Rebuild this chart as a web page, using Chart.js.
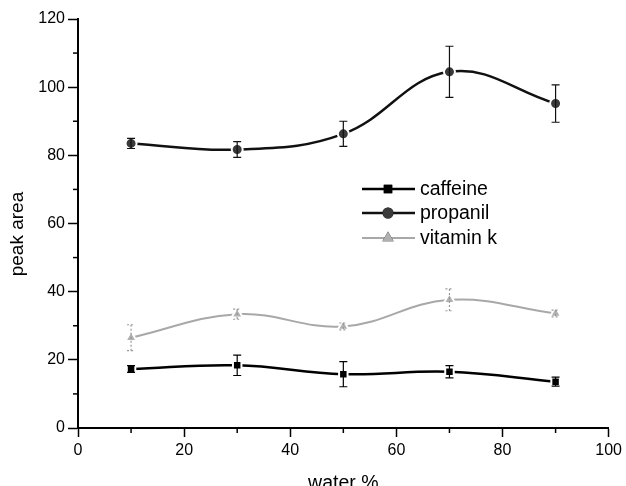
<!DOCTYPE html>
<html>
<head>
<meta charset="utf-8">
<script src="https://cdn.jsdelivr.net/npm/chart.js@4"></script>
<style>
  html, body { margin: 0; padding: 0; background: #fff; }
  #wrap { width: 626px; height: 486px; }
</style>
</head>
<body>
<div id="wrap"><canvas id="peakChart" width="626" height="486"></canvas></div>
<script>
// water content (%) on the x axis
const waterPct = [10, 30, 50, 70, 90];

// peak areas
const caffeine = [17.3, 18.4, 15.8, 16.5, 13.6];
const caffeineErr = [1.0, 3.0, 3.7, 1.8, 1.3];

const propanil = [83.5, 81.7, 86.3, 104.5, 95.2];
const propanilErr = [1.5, 2.3, 3.7, 7.5, 5.5];

const vitaminK = [26.5, 33.4, 29.8, 37.6, 33.6];
const vitaminKErr = [3.8, 1.5, 1.0, 3.2, 1.0];

const xTicks = [0, 20, 40, 60, 80, 100];
const yTicks = [0, 20, 40, 60, 80, 100, 120];

const FONT = "'Liberation Sans', Arial, sans-serif";

function pts(values) {
    return waterPct.map((x, i) => ({ x: x, y: values[i] }));
}

// error bars + minor ticks + legend, drawn with the chart's own scales
const extrasPlugin = {
    id: 'extras',
    beforeDatasetsDraw(chart) {
        const ctx = chart.ctx;
        const xs = chart.scales.x, ys = chart.scales.y;
        const area = chart.chartArea;
        ctx.save();
        ctx.strokeStyle = '#000';
        ctx.lineWidth = 1.5;
        // minor ticks
        for (let v = 10; v < 120; v += 20) {
            const py = ys.getPixelForValue(v);
            ctx.beginPath();
            ctx.moveTo(area.left - 5, py);
            ctx.lineTo(area.left, py);
            ctx.stroke();
        }
        for (let v = 10; v < 100; v += 20) {
            const px = xs.getPixelForValue(v);
            ctx.beginPath();
            ctx.moveTo(px, area.bottom);
            ctx.lineTo(px, area.bottom + 5);
            ctx.stroke();
        }
        ctx.restore();
    },
    afterDatasetsDraw(chart) {
        const ctx = chart.ctx;
        const xs = chart.scales.x, ys = chart.scales.y;
        const errs = [caffeineErr, propanilErr, vitaminKErr];
        ctx.save();
        chart.data.datasets.forEach((ds, di) => {
            ctx.strokeStyle = ds.errColor;
            ctx.lineWidth = 1.2;
            ctx.setLineDash(ds.errDash);
            ds.data.forEach((p, i) => {
                const e = errs[di][i];
                const px = xs.getPixelForValue(p.x);
                const top = ys.getPixelForValue(p.y + e);
                const bot = ys.getPixelForValue(p.y - e);
                ctx.beginPath();
                ctx.moveTo(px, top); ctx.lineTo(px, bot);
                ctx.moveTo(px - 4, top); ctx.lineTo(px + 4, top);
                ctx.moveTo(px - 4, bot); ctx.lineTo(px + 4, bot);
                ctx.stroke();
            });
        });
        ctx.setLineDash([]);

        // legend inside the plot
        const legendY = [189, 213, 238];
        chart.data.datasets.forEach((ds, di) => {
            const y = legendY[di];
            ctx.strokeStyle = ds.borderColor;
            ctx.lineWidth = ds.borderWidth;
            ctx.beginPath();
            ctx.moveTo(362, y); ctx.lineTo(415, y);
            ctx.stroke();
            Chart.helpers.drawPoint(ctx, {
                pointStyle: ds.pointStyle,
                radius: ds.pointRadius,
                borderWidth: 0
            }, 388, y);
            ctx.fillStyle = ds.pointBackgroundColor;
            ctx.fill();
            ctx.fillStyle = '#000';
            ctx.font = '19.5px ' + FONT;
            ctx.textBaseline = 'middle';
            ctx.textAlign = 'left';
            ctx.fillText(ds.label, 420, y + 1);
        });
        ctx.restore();
    }
};

const ctx = document.getElementById('peakChart').getContext('2d');
new Chart(ctx, {
    type: 'line',
    data: {
        datasets: [{
            label: 'caffeine',
            data: pts(caffeine),
            borderColor: '#000',
            borderWidth: 2.5,
            pointStyle: 'rect',
            pointRadius: 6,
            pointBackgroundColor: '#000',
            pointBorderColor: '#fff',
            pointBorderWidth: 2,
            tension: 0.4,
            errColor: '#000',
            errDash: []
        }, {
            label: 'propanil',
            data: pts(propanil),
            borderColor: '#111',
            borderWidth: 2.5,
            pointStyle: 'circle',
            pointRadius: 5.5,
            pointBackgroundColor: '#3a3a3a',
            pointBorderColor: '#fff',
            pointBorderWidth: 2,
            tension: 0.4,
            errColor: '#111',
            errDash: []
        }, {
            label: 'vitamin k',
            data: pts(vitaminK),
            borderColor: '#a8a8a8',
            borderWidth: 2,
            pointStyle: 'triangle',
            pointRadius: 6.5,
            pointBackgroundColor: '#b0b0b0',
            pointBorderColor: '#fff',
            pointBorderWidth: 2,
            tension: 0.4,
            errColor: '#999',
            errDash: [2, 2]
        }]
    },
    options: {
        responsive: false,
        animation: false,
        layout: { padding: { top: 19, right: 15, left: 0, bottom: 0 } },
        plugins: {
            legend: { display: false },
            tooltip: { enabled: false }
        },
        scales: {
            x: {
                type: 'linear',
                min: 0,
                max: 100,
                afterBuildTicks: s => { s.ticks = xTicks.map(v => ({ value: v })); },
                afterFit: s => { s.height = 58; },
                grid: { drawOnChartArea: false, tickLength: 9, tickWidth: 1.5, tickColor: '#000' },
                border: { color: '#000', width: 2 },
                ticks: { color: '#000', font: { family: FONT, size: 16 }, padding: 4, maxRotation: 0 },
                title: {
                    display: true,
                    text: 'water %',
                    color: '#000',
                    font: { family: FONT, size: 19.5 },
                    padding: { top: 0, bottom: -9 }
                }
            },
            y: {
                type: 'linear',
                min: 0,
                max: 120,
                afterBuildTicks: s => { s.ticks = yTicks.map(v => ({ value: v })); },
                afterFit: s => { s.width = 78; },
                grid: { drawOnChartArea: false, tickLength: 10, tickWidth: 1.5, tickColor: '#000' },
                border: { color: '#000', width: 2 },
                ticks: { color: '#000', font: { family: FONT, size: 16 }, padding: 3 },
                title: {
                    display: true,
                    // trailing spaces push the centred label down, as in the figure
                    text: 'peak area    ',
                    color: '#000',
                    font: { family: FONT, size: 19 },
                    padding: { top: 6, bottom: 0 }
                }
            }
        }
    },
    plugins: [extrasPlugin]
});
</script>
</body>
</html>
